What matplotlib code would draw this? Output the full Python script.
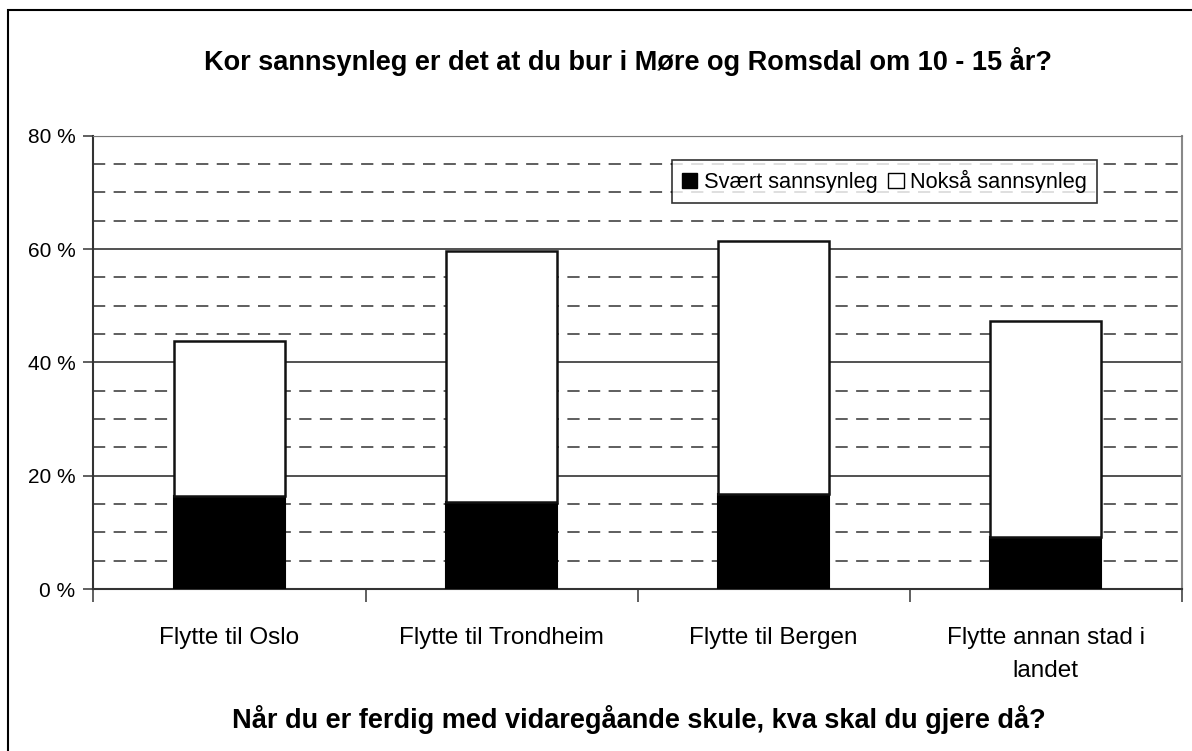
import matplotlib.pyplot as plt
from matplotlib.patches import Patch, Rectangle
import numpy as np

plt.rcParams['font.family'] = ['Liberation Sans', 'DejaVu Sans']

kategoriar = ["Flytte til Oslo", "Flytte til Trondheim", "Flytte til Bergen",
              "Flytte annan stad i\nlandet"]
svaert = [16.4, 15.4, 16.7, 9.1]      # Svært sannsynleg
noksaa = [27.4, 44.3, 44.8, 38.2]     # Nokså sannsynleg (oppå)
y_ticks = [0, 20, 40, 60, 80]
y_labels = ["0 %", "20 %", "40 %", "60 %", "80 %"]

fig = plt.figure(figsize=(11.92, 7.51), dpi=100)
ax = fig.add_axes([0.0784, 0.2157, 0.9130, 0.6036])

# ramme rundt heile figuren (venstre og topp synlege)
fig.patches.append(Rectangle((8 / 1192, -0.05), 1.2, (751 - 10) / 751 + 0.05,
                             transform=fig.transFigure, fill=False,
                             edgecolor='black', lw=1.5))

x = np.arange(len(kategoriar))
w = 0.41

# gridlinjer
for v in range(5, 80, 5):
    if v % 20 == 0:
        ax.axhline(v, color='#222222', lw=1.1, zorder=1)
    else:
        ax.axhline(v, color='#333333', lw=1.1, ls=(0, (8, 5.5)), zorder=1)
ax.axhline(80, color='#777777', lw=1.5, zorder=1)

ax.bar(x, svaert, w, color='black', edgecolor='black', lw=1.5, zorder=3)
ax.bar(x, noksaa, w, bottom=svaert, color='white', edgecolor='#111111',
       lw=1.8, zorder=3)

ax.set_xlim(-0.5, 3.5)
ax.set_ylim(0, 80)
ax.set_yticks(y_ticks)
ax.set_yticklabels(y_labels, fontsize=15)
ax.set_xticks(x)
ax.set_xticklabels(kategoriar, fontsize=17.5, linespacing=1.65)
ax.set_xticks(np.arange(-0.5, 4.0, 1.0), minor=True)
ax.tick_params(axis='x', which='major', length=0, pad=27)
ax.tick_params(axis='x', which='minor', length=9, width=1.2, color='#444444')
ax.tick_params(axis='y', length=7, width=1.2, pad=6, color='#444444')

for s in ['left', 'bottom']:
    ax.spines[s].set_color('#333333')
    ax.spines[s].set_linewidth(1.5)
ax.spines['top'].set_color('#777777')
ax.spines['right'].set_color('#888888')
ax.spines['right'].set_linewidth(1.5)

handles = [Patch(facecolor='black', edgecolor='black', label='Svært sannsynleg'),
           Patch(facecolor='white', edgecolor='black', label='Nokså sannsynleg')]
leg = ax.legend(handles=handles, ncol=2, loc='upper left',
                bbox_to_anchor=(0.5316, 0.946), fontsize=15.7, frameon=True,
                fancybox=False, edgecolor='black', handlelength=0.7,
                handleheight=0.7, handletextpad=0.3, columnspacing=0.5,
                borderpad=0.45, borderaxespad=0)
leg.get_frame().set_linewidth(1.2)
leg.set_zorder(5)

fig.text(0.527, 1 - 61 / 751, "Kor sannsynleg er det at du bur i Møre og Romsdal om 10 - 15 år?",
         ha='center', va='center', fontsize=19.5, fontweight='bold')
fig.text(0.536, 1 - 719 / 751, "Når du er ferdig med vidaregåande skule, kva skal du gjere då?",
         ha='center', va='center', fontsize=19.5, fontweight='bold')

fig.savefig("out.png", dpi=100, facecolor='white')
